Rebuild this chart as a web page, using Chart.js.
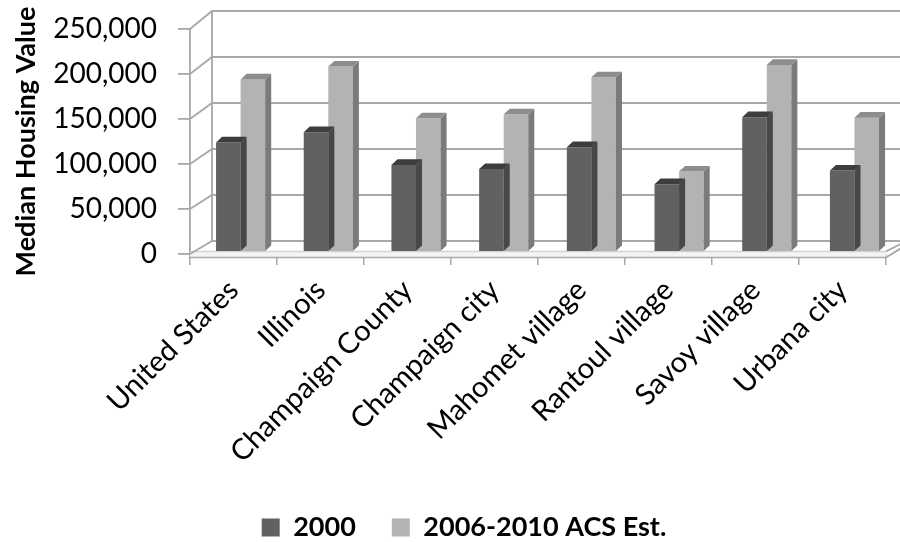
<!DOCTYPE html>
<html>
<head>
<meta charset="utf-8">
<script src="https://cdn.jsdelivr.net/npm/chart.js@4/dist/chart.umd.min.js"></script>
<style>
  html, body { margin: 0; padding: 0; background: #ffffff; }
  #wrap { width: 900px; height: 542px; }
</style>
</head>
<body>
<div id="wrap"><canvas id="chart" width="900" height="542"></canvas></div>
<script>
// Median housing value by place, Census 2000 vs. 2006-2010 ACS estimates
const categories = [
  'United States', 'Illinois', 'Champaign County', 'Champaign city',
  'Mahomet village', 'Rantoul village', 'Savoy village', 'Urbana city'
];
const values2000 = [119600, 130800, 95100, 90600, 114400, 74000, 147200, 88900];
const valuesAcs  = [188400, 202500, 146000, 150300, 190700, 87800, 204200, 146600];
const seriesNames = ['2000', '2006-2010 ACS Est.'];
const axisTitle = 'Median Housing Value';
const yMin = 0, yMax = 250000, yStep = 50000;

// Pseudo-3D geometry (pixels)
const WALL_DX = 22, WALL_DY = 13, WALL_K = 230 / 225;   // back wall offset / scale
const BAR_DX = 6.75, BAR_DY = 2, BAR_KX = 1.008, BAR_KY = 229 / 225; // plane of the bar fronts
const FACE_DX = 6, FACE_DY = 5.5;                        // depth of each column
const LINE = '#a8a8a8';
const FONT = 'Lato, "Open Sans", "Liberation Sans", sans-serif';

const faceColors = [
  { top: '#3d3d3d', side: '#474747' },
  { top: '#8d8d8d', side: '#7b7b7b' }
];

const box3d = {
  id: 'box3d',
  beforeDatasetsDraw(chart) {
    const { ctx, chartArea: a, scales: { y } } = chart;
    const bl = a.left + WALL_DX, br = a.right + WALL_DX;
    const backY = py => a.bottom - WALL_DY + (py - a.bottom) * WALL_K;
    ctx.save();
    // floor slab front edge
    ctx.fillStyle = '#f4f4f4';
    ctx.fillRect(a.left, a.bottom - 2.5, a.right - a.left, 6);
    ctx.lineWidth = 1.5;
    ctx.strokeStyle = '#d2d2d2';
    ctx.beginPath(); ctx.moveTo(a.left, a.bottom - 2.5); ctx.lineTo(a.right, a.bottom - 2.5); ctx.stroke();
    ctx.strokeStyle = LINE;
    ctx.beginPath(); ctx.moveTo(a.left, a.bottom + 3.5); ctx.lineTo(a.right, a.bottom + 3.5); ctx.stroke();
    // wall gridlines with their side-wall connectors
    ctx.lineWidth = 1.8;
    ctx.strokeStyle = LINE;
    y.ticks.forEach(t => {
      const fy = y.getPixelForValue(t.value);
      const by = backY(fy);
      ctx.beginPath();
      ctx.moveTo(a.left, fy);
      ctx.lineTo(bl, by);
      ctx.lineTo(br, by);
      ctx.stroke();
    });
    // back corner of the side wall
    ctx.beginPath(); ctx.moveTo(bl, backY(a.top)); ctx.lineTo(bl, backY(a.bottom)); ctx.stroke();
    // right edge of the floor
    ctx.beginPath(); ctx.moveTo(a.right, a.bottom + 3.5); ctx.lineTo(br, backY(a.bottom) + 3); ctx.stroke();
    ctx.beginPath(); ctx.moveTo(a.right, a.bottom - 2.5); ctx.lineTo(br, backY(a.bottom) - 1); ctx.stroke();
    ctx.restore();

    // columns stand a little behind the front plane
    ctx.save();
    ctx.translate(a.left + BAR_DX, a.bottom - BAR_DY);
    ctx.scale(BAR_KX, BAR_KY);
    ctx.translate(-a.left, -a.bottom);
  },
  afterDatasetDraw(chart, args) {
    const { ctx } = chart;
    const c = faceColors[args.index];
    args.meta.data.forEach(bar => {
      const { x, y, width, base } = bar.getProps(['x', 'y', 'width', 'base'], true);
      const l = x - width / 2, r = x + width / 2;
      ctx.fillStyle = c.side;
      ctx.beginPath();
      ctx.moveTo(r, y); ctx.lineTo(r + FACE_DX, y - FACE_DY);
      ctx.lineTo(r + FACE_DX, base - FACE_DY); ctx.lineTo(r, base);
      ctx.closePath(); ctx.fill();
      ctx.fillStyle = c.top;
      ctx.beginPath();
      ctx.moveTo(l, y); ctx.lineTo(l + FACE_DX, y - FACE_DY);
      ctx.lineTo(r + FACE_DX, y - FACE_DY); ctx.lineTo(r, y);
      ctx.closePath(); ctx.fill();
    });
  },
  afterDatasetsDraw(chart) {
    chart.ctx.restore();
  }
};

new Chart(document.getElementById('chart'), {
  type: 'bar',
  data: {
    labels: categories,
    datasets: [
      { label: seriesNames[0], data: values2000, backgroundColor: '#616161' },
      { label: seriesNames[1], data: valuesAcs, backgroundColor: '#b3b3b3' }
    ]
  },
  options: {
    responsive: false,
    animation: false,
    events: [],
    layout: { padding: { left: 42, right: 14, top: 29, bottom: -9 } },
    datasets: {
      bar: { borderWidth: 0, categoryPercentage: 0.56, barPercentage: 1.0, clip: false }
    },
    plugins: {
      tooltip: { enabled: false },
      legend: {
        position: 'bottom',
        labels: {
          boxWidth: 18, boxHeight: 18, padding: 36,
          color: '#000000',
          font: { family: FONT, size: 27, weight: 'bold' }
        }
      }
    },
    scales: {
      x: {
        grid: { drawOnChartArea: false, tickLength: 11, color: LINE, lineWidth: 1.5 },
        border: { display: false },
        ticks: {
          color: '#000000', maxRotation: 45, minRotation: 45, padding: 8,
          font: { family: FONT, size: 29 }
        },
        afterFit(scale) { scale.height = 224; }
      },
      y: {
        min: yMin, max: yMax,
        grid: { drawOnChartArea: false, tickLength: 12, color: LINE, lineWidth: 1.8 },
        border: { display: true, color: LINE, width: 1.8 },
        ticks: {
          stepSize: yStep, padding: 21, color: '#000000',
          font: { family: FONT, size: 28 },
          callback: v => v.toLocaleString('en-US')
        },
        title: {
          display: true, text: axisTitle, color: '#000000',
          padding: { top: -32, bottom: 0 },
          font: { family: FONT, size: 27, weight: 'bold' }
        },
        afterFit(scale) {
          scale.width = 148;
          scale.paddingTop = 0;
          scale.paddingBottom = 0;
        }
      }
    }
  },
  plugins: [box3d]
});
</script>
</body>
</html>
